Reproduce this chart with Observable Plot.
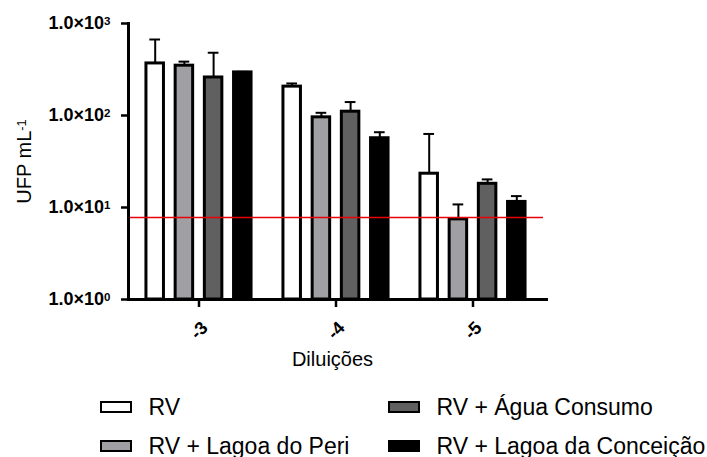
<!DOCTYPE html>
<html><head><meta charset="utf-8">
<script src="https://cdn.jsdelivr.net/npm/d3@7"></script>
<script src="https://cdn.jsdelivr.net/npm/@observablehq/plot@0.6"></script>
<style>
body{margin:0;background:#fff;font-family:"Liberation Sans",Arial,sans-serif;}
#wrap{width:707px;height:375px;}
#legend{position:relative;width:707px;height:82px;}
.item{position:absolute;display:flex;align-items:center;height:23px;font-size:23px;line-height:23px;color:#000;white-space:nowrap;}
.sw{width:32px;height:12px;box-sizing:border-box;border:2.5px solid #000;margin-right:16.5px;}
</style></head><body><div id="wrap"></div><div id="legend"></div>
<script>
// ---- data ----
const dilutions = ["-3", "-4", "-5"];
const series = ["RV", "RV + Lagoa do Peri", "RV + Água Consumo", "RV + Lagoa da Conceição"];
const seriesColors = ["#ffffff", "#a09fa4", "#606060", "#000000"];
// mean values (UFP mL-1) per dilution
const meanRV = [368, 206, 23.3];
const meanPeri = [348, 95.5, 7.43];
const meanAgua = [259, 110, 18.1];
const meanConceicao = [294, 56.6, 11.5];
// upper end of error bars
const upperRV = [670, 223, 63];
const upperPeri = [385, 107, 10.8];
const upperAgua = [481, 140, 20.2];
const upperConceicao = [298, 65.8, 13.3];
const detectionLimit = 7.8;
const yTicks = [1, 10, 100, 1000];
const yTickLabels = ["1.0×10^0", "1.0×10^1", "1.0×10^2", "1.0×10^3"];
const yTitle = "UFP mL^-1";
const xTitle = "Diluições";

const means = [meanRV, meanPeri, meanAgua, meanConceicao];
const uppers = [upperRV, upperPeri, upperAgua, upperConceicao];
const rows = series.map((s, i) => dilutions.map((d, j) => ({dil: d, series: s, value: means[i][j], upper: uppers[i][j]})));

const bandW = 69, pitch = 29.2, barW = 17.5, capW = 10.7;
const offsets = series.map((s, i) => (i - 1.5) * pitch);

const marks = [];
rows.forEach((r, i) => {
  marks.push(Plot.ruleX(r, {x: "dil", y1: "value", y2: "upper", dx: offsets[i], stroke: "#000", strokeWidth: 2}));
  marks.push(Plot.tickY(r, {x: "dil", y: "upper", dx: offsets[i], insetLeft: (bandW - capW) / 2, insetRight: (bandW - capW) / 2, stroke: "#000", strokeWidth: 2}));
  marks.push(Plot.barY(r, {x: "dil", y1: 1, y2: "value", fill: "series", stroke: "#000", strokeWidth: 3, dx: offsets[i], insetLeft: (bandW - barW) / 2, insetRight: (bandW - barW) / 2}));
});
marks.push(Plot.ruleY([detectionLimit], {stroke: "#e8000b", strokeWidth: 1.4, insetRight: 3}));
marks.push(Plot.frame({anchor: "left", stroke: "#000", strokeWidth: 3}));
marks.push(Plot.frame({anchor: "bottom", stroke: "#000", strokeWidth: 3}));
marks.push(Plot.axisY({ticks: yTicks, tickSize: 7, tickPadding: 11, strokeWidth: 2.5, tickFormat: v => yTickLabels[yTicks.indexOf(v)], fontSize: 18, fontWeight: "bold", label: null}));
marks.push(Plot.axisX({tickSize: 8, strokeWidth: 2.5, tickFormat: () => "", label: null}));
marks.push(Plot.text(dilutions, {x: d => d, frameAnchor: "bottom", dy: 31, rotate: -45, fontSize: 18, fontWeight: "bold", textAnchor: "middle", lineAnchor: "middle"}));
marks.push(Plot.text([xTitle], {frameAnchor: "bottom", dy: 60, dx: -5, fontSize: 20, textAnchor: "middle", lineAnchor: "middle"}));
marks.push(Plot.text([yTitle], {frameAnchor: "left", dx: -104, rotate: -90, fontSize: 20, textAnchor: "middle", lineAnchor: "middle"}));

const chart = Plot.plot({
  width: 707, height: 375,
  marginLeft: 128, marginRight: 161, marginTop: 23, marginBottom: 76,
  style: {fontFamily: "'Liberation Sans', Arial, sans-serif", background: "#fff", color: "#000"},
  x: {type: "band", domain: dilutions, paddingInner: 0.5, paddingOuter: 0.2645, align: 0.48, label: null},
  y: {type: "log", domain: [1, 1000], label: null},
  color: {domain: series, range: seriesColors, legend: false},
  marks
});

// superscripts as real text tspans
d3.select(chart).selectAll("text").each(function () {
  const t = this.textContent;
  const m = t.match(/^(.*)\^(.+)$/);
  if (m && this.children.length === 0) {
    const sel = d3.select(this);
    sel.text(m[1]);
    sel.append("tspan").attr("dy", "-0.38em").attr("font-size", "0.64em").text(m[2]);
  }
});
document.getElementById("wrap").appendChild(chart);

// legend
const legend = d3.select("#legend");
const lx = [100, 388], ly = [20.5, 59.5];
series.forEach((s, i) => {
  const col = Math.floor(i / 2), row = i % 2;
  const it = legend.append("div").attr("class", "item").style("left", lx[col] + "px").style("top", ly[row] + "px");
  it.append("div").attr("class", "sw").style("background", seriesColors[i]);
  it.append("span").text(s);
});
</script></body></html>
